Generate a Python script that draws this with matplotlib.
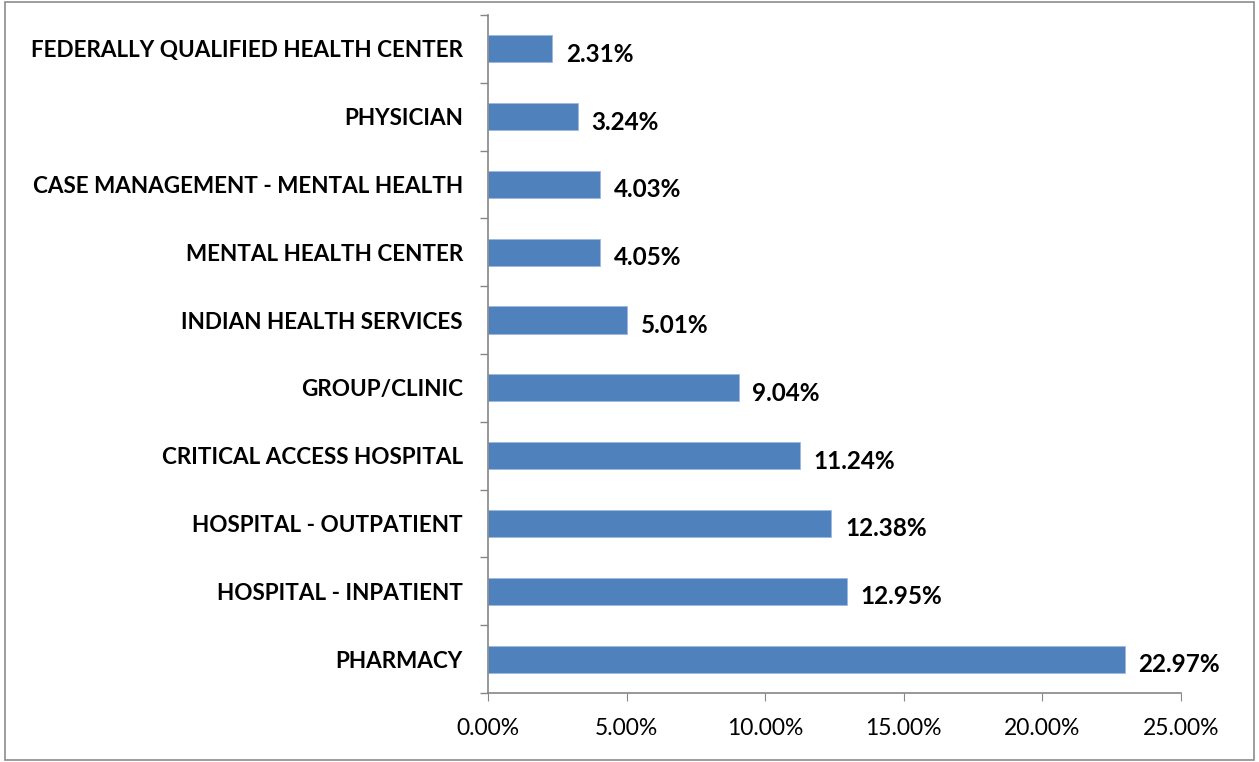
import matplotlib.pyplot as plt
from matplotlib.patches import Rectangle
from matplotlib.ticker import FuncFormatter

# categories bottom -> top, as drawn
categories = [
    "PHARMACY",
    "HOSPITAL - INPATIENT",
    "HOSPITAL - OUTPATIENT",
    "CRITICAL ACCESS HOSPITAL",
    "GROUP/CLINIC",
    "INDIAN HEALTH SERVICES",
    "MENTAL HEALTH CENTER",
    "CASE MANAGEMENT - MENTAL HEALTH",
    "PHYSICIAN",
    "FEDERALLY QUALIFIED HEALTH CENTER",
]
values = [22.97, 12.95, 12.38, 11.24, 9.04, 5.01, 4.05, 4.03, 3.24, 2.31]
x_ticks = [0, 5, 10, 15, 20, 25]

plt.rcParams['font.family'] = ['Lato', 'DejaVu Sans']

fig = plt.figure(figsize=(12.59, 7.62), dpi=100)
ax = fig.add_axes([0.3876, 0.0906, 0.5504, 0.8898])

axis_gray = '#868686'
pos = list(range(len(categories)))
ax.barh(pos, values, height=0.4, color='#4F81BD', edgecolor='#9DB9DD', linewidth=0.6)

for y, v in zip(pos, values):
    ax.text(v + 0.5, y - 0.08, f"{v:.2f}%", va='center', ha='left',
            fontsize=17.5, fontweight='bold', color='black')

ax.set_xlim(0, 25)
ax.set_ylim(-0.5, len(categories) - 0.5)
ax.set_xticks(x_ticks)
ax.xaxis.set_major_formatter(FuncFormatter(lambda v, p: f"{v:.2f}%"))
ax.tick_params(axis='x', direction='out', length=6, color=axis_gray,
               labelsize=16.5, pad=12)

# category labels without ticks, ticks at category boundaries
ax.set_yticks(pos)
ax.set_yticklabels(categories, fontsize=16.2, fontweight='bold')
ax.tick_params(axis='y', length=0, pad=18)
ax.set_yticks([p - 0.5 for p in range(len(categories) + 1)], minor=True)
ax.tick_params(axis='y', which='minor', direction='out', length=6,
               color=axis_gray, width=1)

for s in ['top', 'right']:
    ax.spines[s].set_visible(False)
for s in ['left', 'bottom']:
    ax.spines[s].set_color(axis_gray)
    ax.spines[s].set_linewidth(1.2)

fig.patches.append(Rectangle((0.004, 0.003), 0.992, 0.994, transform=fig.transFigure,
                             fill=False, edgecolor='#8c8c8c', linewidth=1.2))

fig.savefig('out.png', dpi=100)
